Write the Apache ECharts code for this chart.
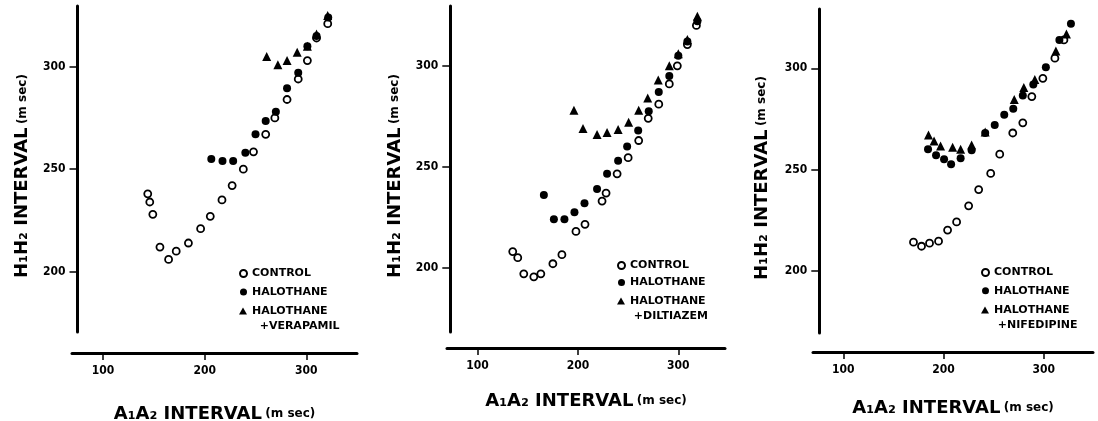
<!DOCTYPE html>
<html>
<head>
<meta charset="utf-8">
<script src="https://cdn.jsdelivr.net/npm/echarts@6/dist/echarts.min.js"></script>
<style>
    html, body { margin: 0; padding: 0; background: #fff; }
    #chart { width: 1098px; height: 421px; }
</style>
</head>
<body>
<div id="chart"></div>
<script>
    // [A1A2, H1H2] pairs in msec
    let verapamilControl = [[144, 238], [146, 234], [149, 228], [156, 212], [164.5, 206], [172, 210], [184, 214], [196, 221], [205.5, 227], [217, 235], [227, 242], [238, 250], [248, 258.5], [260, 267], [269, 275], [281, 284], [292, 294], [301, 303], [310, 314], [321, 321]]
    let verapamilHalothane = [[206.5, 255], [217.5, 254], [228, 254], [240, 258], [250, 267], [260, 273.5], [270, 278], [281, 289.5], [292, 297], [301, 310], [310, 315], [321.5, 324]]
    let verapamilDrug = [[261, 305], [272, 301], [281, 303], [291, 307], [301, 310], [310, 316], [321, 325]]

    let diltiazemControl = [[135, 208], [140, 205], [146, 197], [156, 195.5], [163, 197], [175, 202], [184, 206.5], [198, 218], [207, 221.5], [224, 233], [228, 237], [239, 246.5], [250, 254.5], [260.5, 263], [270, 274], [280.5, 281], [291, 291], [299, 300], [309, 310.5], [318, 320]]
    let diltiazemHalothane = [[166, 236], [176, 224], [186.5, 224], [196.5, 227.5], [206.5, 232], [219, 239], [229, 246.5], [240, 253], [249, 260], [260, 268], [270.5, 277.5], [280.5, 287], [291, 295], [300, 305], [309, 312], [319, 322]]
    let diltiazemDrug = [[196, 278], [205, 269], [219, 266], [229, 267], [240, 268.5], [250.5, 272], [260.5, 278], [269.5, 284], [280, 293], [291, 300], [300, 306], [309, 313], [319, 324.5]]

    let nifedipineControl = [[170, 214], [178, 212], [186, 213.5], [195, 214.5], [204, 220], [213, 224], [225, 232], [235, 240], [247, 248], [256, 257.5], [269, 268], [279, 273], [288, 286], [299, 295], [311, 305], [320, 314]]
    let nifedipineHalothane = [[184.5, 260], [192.5, 257], [200.5, 255], [207.5, 252.5], [217, 255.5], [228, 259.5], [241.5, 268], [251, 272], [260.5, 277], [269.5, 280], [279, 286.5], [289.5, 292], [302, 300.5], [315.5, 314], [327, 322]]
    let nifedipineDrug = [[185, 267], [190.5, 264], [197, 261.5], [209, 261], [217, 260], [228, 262], [241.5, 268.5], [270.5, 284.5], [280, 290.5], [291, 294.5], [312, 308.5], [322.5, 317]]

    let xTicks = [100, 200, 300]
    let yTicks = [200, 250, 300]
    let drugNames = ['HALOTHANE\n  +VERAPAMIL', 'HALOTHANE\n +DILTIAZEM', 'HALOTHANE\n +NIFEDIPINE']

    let titleFont = 'DejaVu Sans'
    let tickFont = 'DejaVu Sans Condensed'

    // one entry per panel: where the frame sits and which values it spans
    let panels = [
        { left: 72, width: 285, top: 6, height: 326, xMin: 69.5, xMax: 349.8, yMin: 170.6, yMax: 329.6, yOffset: -5.5, xOffset: 21, yGap: 46, xGap: 52,
          data: [verapamilControl, verapamilHalothane, verapamilDrug], legendLeft: 239, legendTop: 267, legendGap: 5.5, legend2Top: 288.5 },
        { left: 447, width: 278, top: 6, height: 326, xMin: 69.5, xMax: 346.5, yMin: 168.2, yMax: 329.6, yOffset: -3.3, xOffset: 16, yGap: 46, xGap: 44,
          data: [diltiazemControl, diltiazemHalothane, diltiazemDrug], legendLeft: 617, legendTop: 259, legendGap: 4, legend2Top: 278.5 },
        { left: 813, width: 280, top: 9, height: 324, xMin: 69.8, xMax: 349, yMin: 169.1, yMax: 329.3, yOffset: -6.3, xOffset: 19, yGap: 48, xGap: 47,
          data: [nifedipineControl, nifedipineHalothane, nifedipineDrug], legendLeft: 981, legendTop: 266, legendGap: 5.3, legend2Top: 287.5 }
    ]

    let grid = [], xAxis = [], yAxis = [], series = [], legend = []

    let titleRich = {
        a: { fontFamily: titleFont, fontWeight: 'bold', fontSize: 18, color: '#000' },
        b: { fontFamily: titleFont, fontWeight: 'bold', fontSize: 12, color: '#000' }
    }

    panels.forEach(function (p, i) {
        grid.push({ left: p.left, top: p.top, width: p.width, height: p.height, outerBoundsMode: 'none' })
        xAxis.push({
            type: 'value', gridIndex: i, min: p.xMin, max: p.xMax, offset: p.xOffset,
            name: '{a|A₁A₂ INTERVAL} {b|(m sec)}', nameLocation: 'middle', nameGap: p.xGap,
            nameTextStyle: { rich: titleRich },
            splitLine: { show: false },
            axisLine: { lineStyle: { color: '#000', width: 3 } },
            axisTick: { length: 7, lineStyle: { color: '#000', width: 1.5 }, customValues: xTicks },
            axisLabel: { customValues: xTicks, margin: 12, color: '#000', fontFamily: tickFont, fontWeight: 'bold', fontSize: 12 }
        })
        yAxis.push({
            type: 'value', gridIndex: i, min: p.yMin, max: p.yMax, offset: p.yOffset,
            name: '{a|H₁H₂ INTERVAL} {b|(m sec)}', nameLocation: 'middle', nameGap: p.yGap,
            nameTextStyle: { rich: titleRich, padding: [0, 14, 0, 0] },
            splitLine: { show: false },
            axisLine: { show: true, lineStyle: { color: '#000', width: 3 } },
            axisTick: { show: true, length: 8, lineStyle: { color: '#000', width: 1.5 }, customValues: yTicks },
            axisLabel: { customValues: yTicks, margin: 12, color: '#000', fontFamily: tickFont, fontWeight: 'bold', fontSize: 12 }
        })

        series.push({
            name: 'CONTROL', type: 'scatter', xAxisIndex: i, yAxisIndex: i,
            symbol: 'circle', symbolSize: 7, data: p.data[0],
            itemStyle: { color: '#fff', borderColor: '#000', borderWidth: 1.8, opacity: 1 }
        })
        series.push({
            name: 'HALOTHANE', type: 'scatter', xAxisIndex: i, yAxisIndex: i,
            symbol: 'circle', symbolSize: 8, data: p.data[1],
            itemStyle: { color: '#000', opacity: 1 }
        })
        series.push({
            name: drugNames[i], type: 'scatter', xAxisIndex: i, yAxisIndex: i,
            symbol: 'triangle', symbolSize: 9, data: p.data[2],
            itemStyle: { color: '#000', opacity: 1 }
        })

        let legendText = { fontFamily: titleFont, fontWeight: 'bold', fontSize: 11, lineHeight: 13, color: '#000' }
        legend.push({
            orient: 'vertical', left: p.legendLeft, top: p.legendTop, padding: 0, itemGap: p.legendGap,
            itemWidth: 7, itemHeight: 7, selectedMode: false,
            data: ['CONTROL', 'HALOTHANE'], textStyle: legendText
        })
        // the drug item wraps onto two lines; an empty first line keeps
        // the "HALOTHANE" line level with the triangle
        legend.push({
            orient: 'vertical', left: p.legendLeft, top: p.legend2Top, padding: 0,
            itemWidth: 8, itemHeight: 7, selectedMode: false,
            data: [drugNames[i]],
            formatter: function (name) { return ' \n' + name },
            textStyle: Object.assign({}, legendText, { lineHeight: 15 })
        })
    })

    let mychart = echarts.init(document.getElementById('chart'), null, { renderer: 'canvas' })
    mychart.setOption({
        backgroundColor: '#fff',
        animation: false,
        grid: grid,
        xAxis: xAxis,
        yAxis: yAxis,
        legend: legend,
        series: series
    })
</script>
</body>
</html>
